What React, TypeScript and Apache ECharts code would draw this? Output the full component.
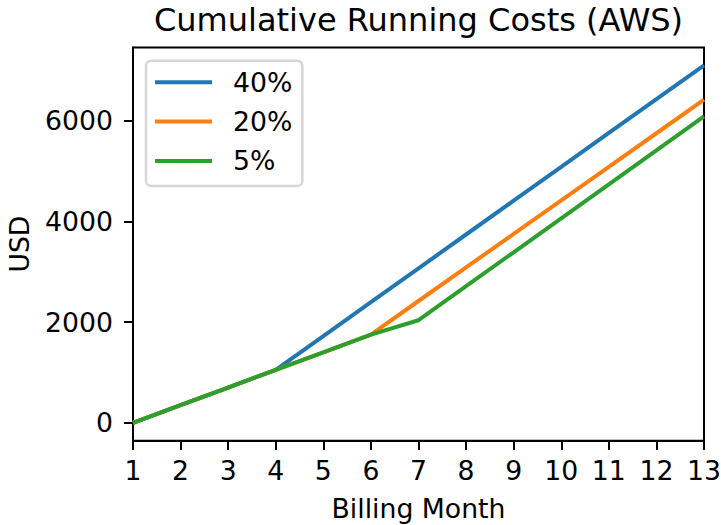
import React, { useEffect, useRef } from "react";
import * as echarts from "echarts";

const months = [1, 2, 3, 4, 5, 6, 7, 8, 9, 10, 11, 12, 13];
const seriesNames = ["40%", "20%", "5%"];
const cost40 = [0, 350, 700, 1050, 1722, 2394, 3066, 3738, 4410, 5082, 5754, 6426, 7095];
const cost20 = [0, 350, 700, 1050, 1400, 1752, 2418, 3084, 3750, 4416, 5082, 5748, 6414];
const cost5 = [0, 350, 700, 1050, 1400, 1752, 2036, 2711, 3385, 4060, 4734, 5409, 6083];
const yTicks = [0, 2000, 4000, 6000];
const colors = ["#1f77b4", "#ff7f0e", "#2ca02c"];

const FONT = "DejaVu Sans";
const FS = 26.7;

export default function App() {
  const ref = useRef<HTMLDivElement>(null);
  useEffect(() => {
    document.body.style.margin = "0";
    if (!ref.current) return;
    const chart = echarts.init(ref.current, null, { renderer: "svg" });
    const all = [cost40, cost20, cost5];
    const tickStyle = { color: "#000", width: 2 };
    chart.setOption({
      animation: false,
      backgroundColor: "#ffffff",
      textStyle: { fontFamily: FONT },
      grid: {
        left: 133,
        right: 17,
        top: 47.5,
        bottom: 84.3,
        show: true,
        borderColor: "#000",
        borderWidth: 2,
        backgroundColor: "transparent",
        containLabel: false,
        outerBoundsMode: "none",
      },
      graphic: [
        {
          type: "text",
          x: 418.5,
          y: 19.5,
          style: {
            text: "Cumulative Running Costs (AWS)",
            fontFamily: FONT,
            fontSize: 32,
            fill: "#000",
            align: "center",
            verticalAlign: "middle",
          },
        },
      ],
      legend: {
        orient: "vertical",
        left: 146,
        top: 60.7,
        data: seriesNames,
        icon: "rect",
        itemWidth: 57,
        itemHeight: 4,
        itemGap: 9.3,
        padding: [6.6, 10, 10, 9],
        backgroundColor: "rgba(255,255,255,0.8)",
        borderColor: "#d6d6d6",
        borderWidth: 2.5,
        borderRadius: 5,
        textStyle: {
          fontFamily: FONT,
          fontSize: FS,
          color: "#000",
          lineHeight: 30,
          padding: [0, 0, 0, 16],
        },
      },
      xAxis: [
        {
          type: "value",
          min: 1,
          max: 13,
          interval: 1,
          position: "bottom",
          name: "Billing Month",
          nameLocation: "middle",
          nameGap: 54,
          nameTextStyle: { fontFamily: FONT, fontSize: FS, color: "#000" },
          axisLine: { show: true, onZero: false, lineStyle: { color: "#000", width: 2 } },
          axisTick: { show: true, length: 9, lineStyle: tickStyle },
          axisLabel: {
            fontFamily: FONT,
            fontSize: FS,
            color: "#000",
            margin: 9,
            padding: [7, 0, 0, 0],
          },
          splitLine: { show: false },
        },
        {
          type: "value",
          min: 1,
          max: 13,
          interval: 1,
          position: "bottom",
          axisLine: { show: false, onZero: false },
          axisTick: { show: true, length: 9, lineStyle: tickStyle },
          axisLabel: { show: false },
          splitLine: { show: false },
        },
      ],
      yAxis: [
        {
          type: "value",
          min: -355,
          max: 7450,
          position: "left",
          name: "USD",
          nameLocation: "middle",
          nameGap: 100,
          nameTextStyle: { fontFamily: FONT, fontSize: FS, color: "#000" },
          axisLine: { show: true, onZero: false, lineStyle: { color: "#000", width: 2 } },
          axisTick: {
            show: true,
            length: 9,
            customValues: yTicks,
            lineStyle: tickStyle,
          },
          axisLabel: {
            fontFamily: FONT,
            fontSize: FS,
            color: "#000",
            margin: 9,
            padding: [0, 11, 0, 0],
            customValues: yTicks,
            formatter: (v: number) => String(v),
          },
          splitLine: { show: false },
        },
        {
          type: "value",
          min: -355,
          max: 7450,
          position: "left",
          axisLine: { show: false, onZero: false },
          axisTick: {
            show: true,
            length: 9,
            customValues: yTicks,
            lineStyle: tickStyle,
          },
          axisLabel: { show: false, customValues: yTicks },
          splitLine: { show: false },
        },
      ],
      series: seriesNames.map((name, i) => ({
        name,
        type: "line",
        xAxisIndex: 0,
        yAxisIndex: 0,
        data: months.map((m, j) => [m, all[i][j]]),
        showSymbol: false,
        symbol: "none",
        lineStyle: { color: colors[i], width: 4 },
        itemStyle: { color: colors[i] },
        clip: true,
      })),
    });
    return () => chart.dispose();
  }, []);
  return <div ref={ref} style={{ width: 721, height: 525 }} />;
}
